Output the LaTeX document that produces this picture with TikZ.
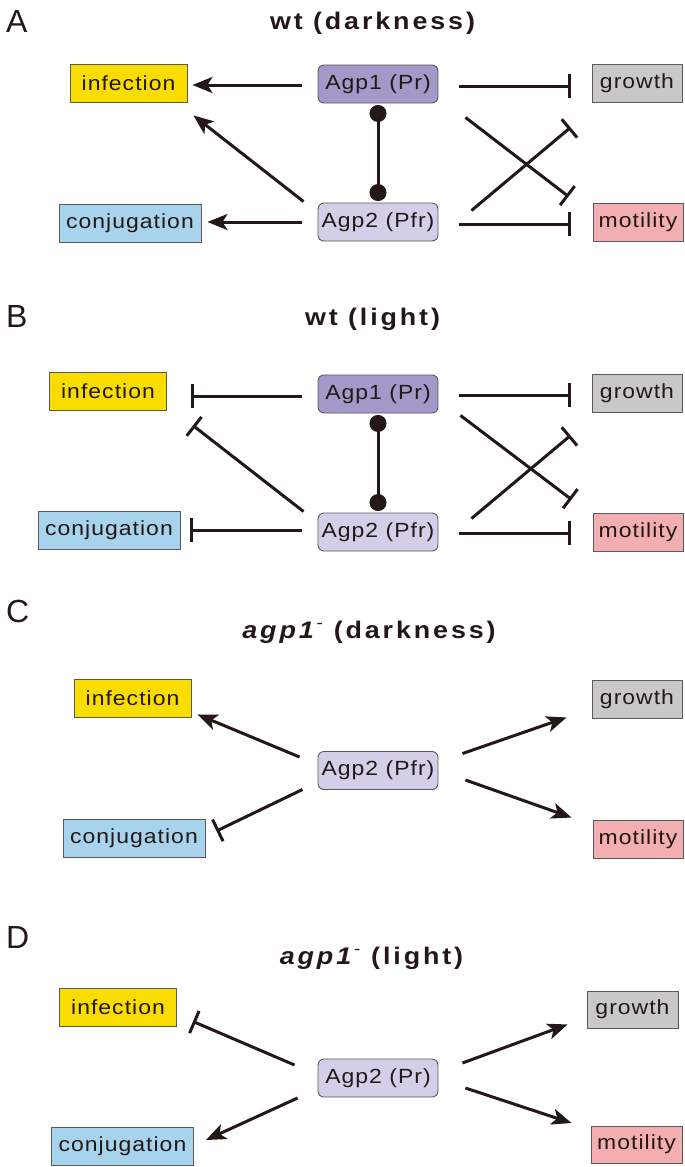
\documentclass[tikz,border=0pt]{standalone}
\usepackage{fontspec}
\setmainfont{Liberation Sans}
\newfontfamily\boxfam[FakeStretch=1.12,LetterSpace=5]{Liberation Sans}
\newfontfamily\titlefam[FakeStretch=1.12,LetterSpace=12]{Liberation Sans}
\usetikzlibrary{arrows.meta,calc}
\definecolor{ink}{HTML}{231815}
\definecolor{cinf}{HTML}{F9DC00}
\definecolor{cconj}{HTML}{A7D4EC}
\definecolor{cgro}{HTML}{C8C8C8}
\definecolor{cmot}{HTML}{F2AEB0}
\definecolor{cagpa}{HTML}{A498C9}
\definecolor{cagpb}{HTML}{D4CFE8}
\definecolor{bord}{HTML}{5A5A5A}
\begin{document}
\begin{tikzpicture}[x=1pt,y=-1pt,
  every node/.style={text=ink},
  box/.style={draw=bord, line width=0.9pt, minimum height=38pt, inner sep=0pt,
    font=\boxfam\fontsize{20.5}{24}\selectfont},
  inf/.style={box, fill=cinf, minimum width=117pt},
  conj/.style={box, fill=cconj, minimum width=142pt},
  gro/.style={box, fill=cgro, minimum width=90pt},
  mot/.style={box, fill=cmot, minimum width=90pt},
  agpa/.style={box, fill=cagpa, rounded corners=6pt, minimum width=120pt},
  agpb/.style={box, fill=cagpb, rounded corners=6pt, minimum width=120pt},
  ttl/.style={anchor=base, font=\titlefam\bfseries\fontsize{24}{28}\selectfont},
  lbl/.style={anchor=base west, inner sep=0pt, font=\fontsize{32}{36}\selectfont},
  act/.style={draw=ink, line width=3pt, -{Stealth[length=20pt,width=16pt,inset=5pt]}},
  inh/.style={draw=ink, line width=3pt, -{Bar[width=24pt,line width=3pt]}},
  bind/.style={draw=ink, line width=3pt, {Circle[length=17pt]}-{Circle[length=17pt]},
    shorten <=1.5pt, shorten >=1.5pt}
]
\useasboundingbox (0,0) rectangle (685,1167);

% ---------- Panel A ----------
\node[lbl] (la) at (6,32) {A};
\node[ttl] (ta) at (372.5,29) {wt (darkness)};
\node[inf]  (infA)  at (128.5,83) {infection};
\node[conj] (conjA) at (130,223) {conjugation};
\node[agpa] (agp1A) at (378,84) {Agp1 (Pr)};
\node[agpb] (agp2A) at (378,222) {Agp2 (Pfr)};
\node[gro]  (groA)  at (637,83) {growth};
\node[mot]  (motA)  at (638,222.5) {motility};
\draw[act] ($(agp1A.west)+(-16,1)$) -- ($(infA.east)+(5,2)$);
\draw[act] ($(agp2A.north west)+(-14,-1)$) -- ($(infA.south east)+(6,13)$);
\draw[act] ($(agp2A.west)+(-16,0)$) -- ($(conjA.east)+(6,-1)$);
\draw[inh] ($(agp1A.east)+(21,2)$) -- ($(groA.west)+(-21,3)$);
\draw[inh] ($(agp2A.east)+(21,2)$) -- ($(motA.west)+(-22,1.5)$);
\draw[inh] ($(agp1A.south east)+(27,14)$) -- ($(motA.north west)+(-24,-6.5)$);
\draw[inh] ($(agp2A.north east)+(33,8)$) -- ($(groA.south west)+(-21,25)$);
\draw[bind] (agp1A.south) -- (agp2A.north);

% ---------- Panel B ----------
\node[lbl] (lb) at (6,327) {B};
\node[ttl] (tb) at (372.5,325) {wt (light)};
\node[inf]  (infB)  at (108,391) {infection};
\node[conj] (conjB) at (109,530) {conjugation};
\node[agpa] (agp1B) at (378,394) {Agp1 (Pr)};
\node[agpb] (agp2B) at (378,532) {Agp2 (Pfr)};
\node[gro]  (groB)  at (637,393) {growth};
\node[mot]  (motB)  at (638,532) {motility};
\draw[inh] ($(agp1B.west)+(-16,2)$) -- ($(infB.east)+(24,5)$);
\draw[inh] ($(agp2B.north west)+(-14,-1)$) -- ($(infB.south east)+(26,15)$);
\draw[inh] ($(agp2B.west)+(-16,-2)$) -- ($(conjB.east)+(10,0)$);
\draw[inh] ($(agp1B.east)+(21,1)$) -- ($(groB.west)+(-21,2)$);
\draw[inh] ($(agp2B.east)+(21,1)$) -- ($(motB.west)+(-22,1)$);
\draw[inh] ($(agp1B.south east)+(22,2)$) -- ($(motB.north west)+(-21,-13)$);
\draw[inh] ($(agp2B.north east)+(33,6)$) -- ($(groB.south west)+(-21,23)$);
\draw[bind] (agp1B.south) -- (agp2B.north);

% ---------- Panel C ----------
\node[lbl] (lc) at (6,622) {C};
\node[ttl] (tc) at (369,638) {\textit{agp1}\textsuperscript{\mdseries -} (darkness)};
\node[inf]  (infC)  at (132.5,698.5) {infection};
\node[conj] (conjC) at (134,838) {conjugation};
\node[agpb] (agp2C) at (378,770.5) {Agp2 (Pfr)};
\node[gro]  (groC)  at (637,699.5) {growth};
\node[mot]  (motC)  at (638,839) {motility};
\draw[act] ($(agp2C.west)+(-18,-13.5)$) -- ($(infC.south east)+(6,-3.5)$);
\draw[inh] ($(agp2C.south west)+(-15,-0.5)$) -- ($(conjC.east)+(11,-7)$);
\draw[act] ($(agp2C.north east)+(24,2.5)$) -- ($(groC.south west)+(-25,-1.5)$);
\draw[act] ($(agp2C.east)+(27,9.5)$) -- ($(motC.north west)+(-21,-2)$);

% ---------- Panel D ----------
\node[lbl] (ld) at (6,948) {D};
\node[ttl] (td) at (371.5,964) {\textit{agp1}\textsuperscript{\mdseries -} (light)};
\node[inf]  (infD)  at (118,1007) {infection};
\node[conj] (conjD) at (122.5,1146) {conjugation};
\node[agpb] (agp2D) at (378,1078) {Agp2 (Pr)};
\node[gro, minimum width=91pt, minimum height=37pt] (groD) at (632.5,1009.5) {growth};
\node[mot, minimum width=91pt, minimum height=37pt] (motD) at (636.5,1144.5) {motility};
\draw[inh] ($(agp2D.west)+(-23,-13)$) -- ($(infD.south east)+(16,-5)$);
\draw[act] ($(agp2D.west)+(-20,20)$) -- ($(conjD.east)+(12,-6)$);
\draw[act] ($(agp2D.east)+(24,-15)$) -- ($(groD.south west)+(-19,-4)$);
\draw[act] ($(agp2D.east)+(27,10)$) -- ($(motD.north west)+(-19,-2.5)$);
\end{tikzpicture}
\end{document}
